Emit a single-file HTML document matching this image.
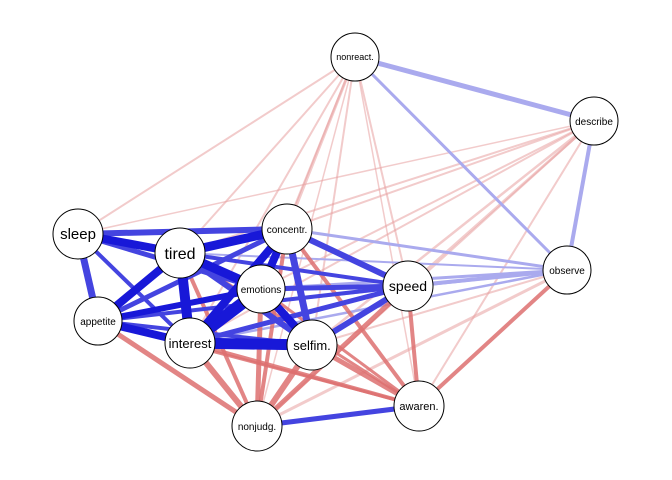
<!DOCTYPE html>
<html><head><meta charset="utf-8"><style>html,body{margin:0;padding:0;background:#fff}svg{display:block}</style></head><body>
<svg width="672" height="480" xmlns="http://www.w3.org/2000/svg" font-family="Liberation Sans, sans-serif">
<rect width="672" height="480" fill="#fff"/>
<g stroke-linecap="butt">
<!-- faint red -->
<g stroke="#e8a0a0" stroke-opacity="0.55">
<line x1="355" y1="57" x2="78" y2="234" stroke-width="2"/>
<line x1="355" y1="57" x2="180" y2="253" stroke-width="2"/>
<line x1="355" y1="57" x2="287" y2="229" stroke-width="3"/>
<line x1="355" y1="57" x2="261" y2="289" stroke-width="2"/>
<line x1="355" y1="57" x2="408" y2="286" stroke-width="2"/>
<line x1="355" y1="57" x2="312" y2="345" stroke-width="2"/>
<line x1="355" y1="57" x2="419" y2="406" stroke-width="1.5"/>
<line x1="355" y1="57" x2="190" y2="343" stroke-width="2"/>
<line x1="355" y1="57" x2="257" y2="426" stroke-width="1.5"/>
<line x1="594" y1="121" x2="78" y2="234" stroke-width="1.5"/>
<line x1="594" y1="121" x2="180" y2="253" stroke-width="2"/>
<line x1="594" y1="121" x2="287" y2="229" stroke-width="2"/>
<line x1="594" y1="121" x2="261" y2="289" stroke-width="2"/>
<line x1="594" y1="121" x2="408" y2="286" stroke-width="2.5"/>
<line x1="594" y1="121" x2="312" y2="345" stroke-width="2.5"/>
<line x1="594" y1="121" x2="190" y2="343" stroke-width="2"/>
<line x1="594" y1="121" x2="257" y2="426" stroke-width="2"/>
<line x1="594" y1="121" x2="419" y2="406" stroke-width="2"/>
<line x1="567" y1="270" x2="257" y2="426" stroke-width="3"/>
<line x1="567" y1="270" x2="312" y2="345" stroke-width="2"/>
</g>
<!-- light blue -->
<g stroke="#aaaaee">
<line x1="355" y1="57" x2="594" y2="121" stroke-width="5"/>
<line x1="594" y1="121" x2="567" y2="270" stroke-width="4"/>
<line x1="355" y1="57" x2="567" y2="270" stroke-width="3"/>
<line x1="567" y1="270" x2="287" y2="229" stroke-width="3"/>
<line x1="567" y1="270" x2="261" y2="289" stroke-width="3"/>
<line x1="567" y1="270" x2="408" y2="286" stroke-width="4"/>
<line x1="567" y1="270" x2="190" y2="343" stroke-width="2.5"/>
<line x1="567" y1="270" x2="180" y2="253" stroke-width="2"/>
<line x1="567" y1="270" x2="98" y2="321" stroke-width="2"/>
</g>
<!-- red -->
<g stroke="#dd7070" stroke-opacity="0.85">
<line x1="567" y1="270" x2="419" y2="406" stroke-width="4"/>
<line x1="257" y1="426" x2="190" y2="343" stroke-width="6"/>
<line x1="257" y1="426" x2="312" y2="345" stroke-width="6"/>
<line x1="257" y1="426" x2="261" y2="289" stroke-width="5"/>
<line x1="257" y1="426" x2="98" y2="321" stroke-width="5"/>
<line x1="257" y1="426" x2="180" y2="253" stroke-width="4"/>
<line x1="257" y1="426" x2="287" y2="229" stroke-width="4"/>
<line x1="257" y1="426" x2="408" y2="286" stroke-width="5"/>
<line x1="419" y1="406" x2="312" y2="345" stroke-width="5"/>
<line x1="419" y1="406" x2="408" y2="286" stroke-width="4"/>
<line x1="419" y1="406" x2="190" y2="343" stroke-width="4"/>
<line x1="419" y1="406" x2="287" y2="229" stroke-width="4"/>
<line x1="419" y1="406" x2="261" y2="289" stroke-width="3"/>
<line x1="419" y1="406" x2="98" y2="321" stroke-width="3"/>
<line x1="419" y1="406" x2="180" y2="253" stroke-width="3"/>
</g>
<!-- blue medium -->
<g stroke="#4444e0">
<line x1="257" y1="426" x2="419" y2="406" stroke-width="5"/>
<line x1="78" y1="234" x2="287" y2="229" stroke-width="6"/>
<line x1="78" y1="234" x2="261" y2="289" stroke-width="5"/>
<line x1="78" y1="234" x2="98" y2="321" stroke-width="7"/>
<line x1="78" y1="234" x2="190" y2="343" stroke-width="4"/>
<line x1="98" y1="321" x2="287" y2="229" stroke-width="5"/>
<line x1="98" y1="321" x2="408" y2="286" stroke-width="4"/>
<line x1="98" y1="321" x2="312" y2="345" stroke-width="4"/>
<line x1="408" y1="286" x2="287" y2="229" stroke-width="6"/>
<line x1="408" y1="286" x2="261" y2="289" stroke-width="5"/>
<line x1="408" y1="286" x2="312" y2="345" stroke-width="6"/>
<line x1="408" y1="286" x2="190" y2="343" stroke-width="5"/>
<line x1="408" y1="286" x2="180" y2="253" stroke-width="4"/>
<line x1="287" y1="229" x2="312" y2="345" stroke-width="7"/>
<line x1="180" y1="253" x2="312" y2="345" stroke-width="6"/>
</g>
<!-- blue strong -->
<g stroke="#1818d8">
<line x1="78" y1="234" x2="180" y2="253" stroke-width="8"/>
<line x1="98" y1="321" x2="180" y2="253" stroke-width="8"/>
<line x1="98" y1="321" x2="190" y2="343" stroke-width="8"/>
<line x1="98" y1="321" x2="261" y2="289" stroke-width="6"/>
<line x1="180" y1="253" x2="190" y2="343" stroke-width="10"/>
<line x1="180" y1="253" x2="261" y2="289" stroke-width="9"/>
<line x1="180" y1="253" x2="287" y2="229" stroke-width="9"/>
<line x1="190" y1="343" x2="261" y2="289" stroke-width="12"/>
<line x1="190" y1="343" x2="312" y2="345" stroke-width="11"/>
<line x1="190" y1="343" x2="287" y2="229" stroke-width="8"/>
<line x1="261" y1="289" x2="312" y2="345" stroke-width="8"/>
<line x1="261" y1="289" x2="287" y2="229" stroke-width="8"/>
</g>
</g>
<g fill="#fff" stroke="#000" stroke-width="1">
<circle cx="355" cy="57" r="24"/>
<circle cx="594" cy="121" r="24"/>
<circle cx="567" cy="270" r="24"/>
<circle cx="78" cy="234" r="25"/>
<circle cx="180" cy="253" r="25"/>
<circle cx="287" cy="229" r="25"/>
<circle cx="261" cy="289" r="24"/>
<circle cx="408" cy="286" r="25"/>
<circle cx="98" cy="321" r="24"/>
<circle cx="190" cy="343" r="25"/>
<circle cx="312" cy="345" r="25"/>
<circle cx="419" cy="406" r="25"/>
<circle cx="257" cy="426" r="25"/>
</g>
<g text-anchor="middle" fill="#000">
<text x="355" y="60" font-size="9">nonreact.</text>
<text x="594" y="125" font-size="10">describe</text>
<text x="567" y="274" font-size="10">observe</text>
<text x="78" y="239" font-size="15">sleep</text>
<text x="180" y="259" font-size="16">tired</text>
<text x="287" y="233" font-size="10">concentr.</text>
<text x="261" y="293" font-size="10">emotions</text>
<text x="408" y="291" font-size="14">speed</text>
<text x="98" y="325" font-size="10">appetite</text>
<text x="190" y="348" font-size="13">interest</text>
<text x="312" y="350" font-size="13">selfim.</text>
<text x="419" y="410" font-size="11">awaren.</text>
<text x="257" y="430" font-size="10">nonjudg.</text>
</g>
</svg>
</body></html>
